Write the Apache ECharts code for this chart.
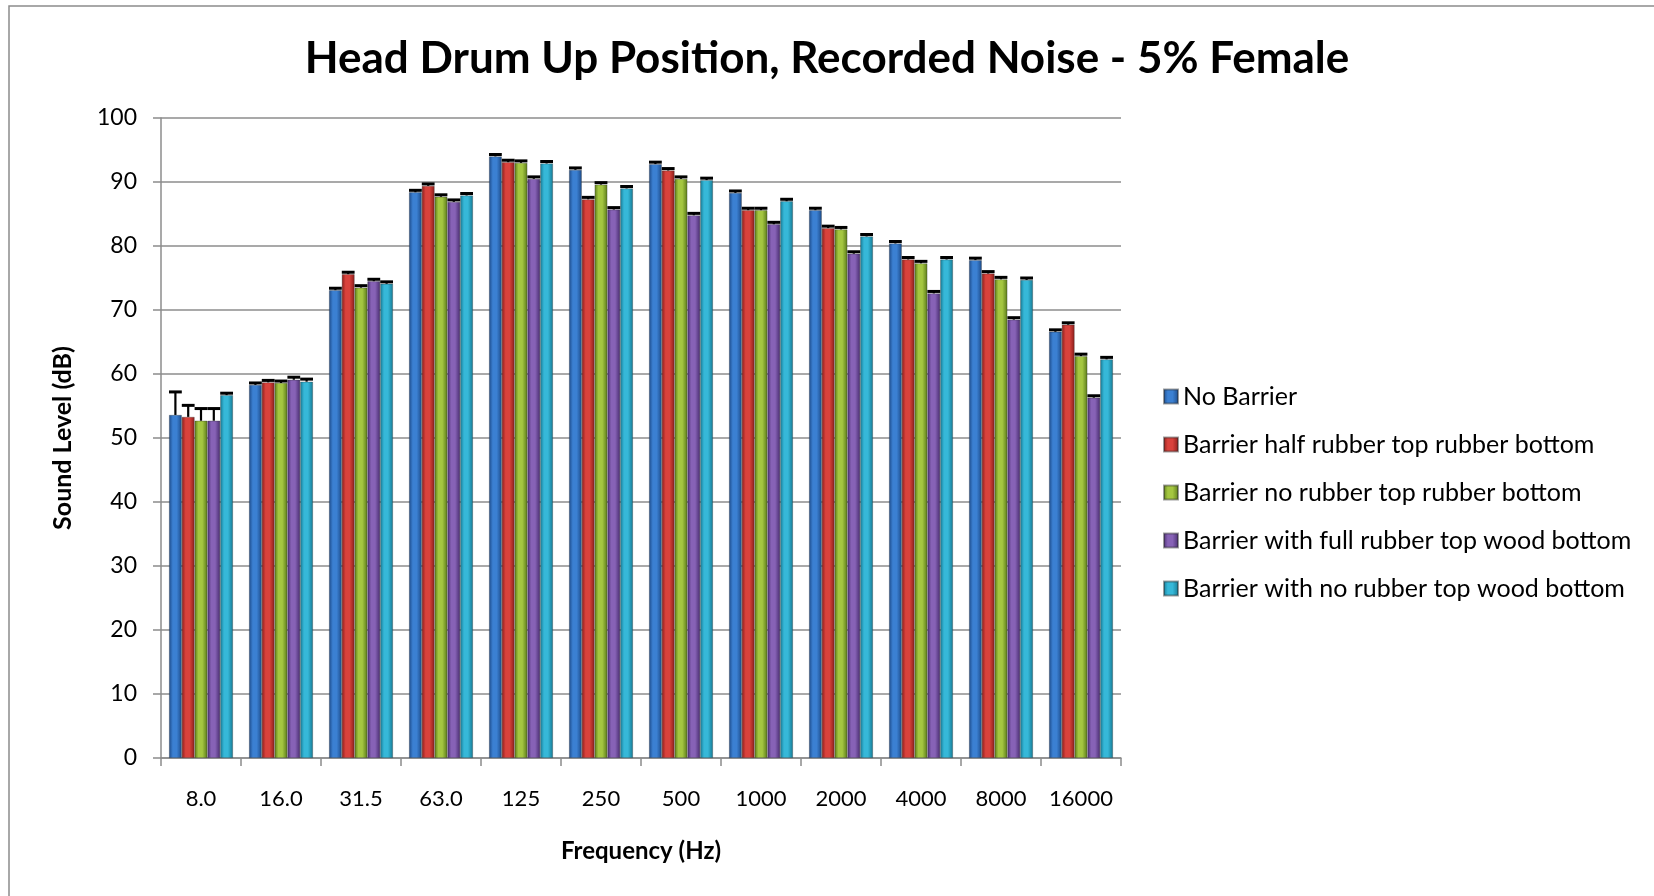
<!DOCTYPE html>
<html>
<head>
<meta charset="utf-8">
<script src="https://cdn.jsdelivr.net/npm/echarts@6/dist/echarts.min.js"></script>
<style>
  html, body { margin: 0; padding: 0; background: #fff; }
  #main { width: 1654px; height: 896px; }
</style>
</head>
<body>
<div id="main"></div>
<script>
// frequency bands
var categories = ['8.0', '16.0', '31.5', '63.0', '125', '250', '500', '1000', '2000', '4000', '8000', '16000'];

var seriesNames = [
  'No Barrier',
  'Barrier half rubber top rubber bottom',
  'Barrier no rubber top rubber bottom',
  'Barrier with full rubber top wood bottom',
  'Barrier with no rubber top wood bottom'
];

// sound level (dB) per band
var noBarrier = [53.6, 58.3, 73.1, 88.4, 94.0, 91.9, 92.8, 88.3, 85.6, 80.4, 77.8, 66.6];
var halfRubberTop = [53.3, 58.7, 75.6, 89.4, 93.1, 87.3, 91.8, 85.6, 82.8, 77.9, 75.7, 67.7];
var noRubberTop = [52.7, 58.6, 73.5, 87.7, 93.0, 89.6, 90.5, 85.6, 82.6, 77.3, 74.8, 62.8];
var fullRubberWood = [52.7, 59.1, 74.5, 86.9, 90.5, 85.7, 84.8, 83.4, 78.8, 72.6, 68.5, 56.3];
var noRubberWood = [56.7, 58.8, 74.1, 87.9, 92.9, 89.0, 90.3, 87.0, 81.5, 77.9, 74.7, 62.3];

// positive error per band
var errNoBarrier = [3.6, 0.3, 0.3, 0.3, 0.3, 0.3, 0.3, 0.3, 0.3, 0.3, 0.3, 0.3];
var errHalfRubberTop = [1.8, 0.3, 0.3, 0.3, 0.3, 0.3, 0.3, 0.3, 0.3, 0.3, 0.3, 0.3];
var errNoRubberTop = [1.9, 0.3, 0.3, 0.3, 0.3, 0.3, 0.3, 0.3, 0.3, 0.3, 0.3, 0.3];
var errFullRubberWood = [1.9, 0.4, 0.3, 0.3, 0.3, 0.3, 0.3, 0.3, 0.3, 0.3, 0.3, 0.3];
var errNoRubberWood = [0.3, 0.4, 0.3, 0.3, 0.3, 0.3, 0.3, 0.3, 0.3, 0.3, 0.3, 0.3];

var yTicks = [0, 10, 20, 30, 40, 50, 60, 70, 80, 90, 100];

var values = [noBarrier, halfRubberTop, noRubberTop, fullRubberWood, noRubberWood];
var errors = [errNoBarrier, errHalfRubberTop, errNoRubberTop, errFullRubberWood, errNoRubberWood];

// edge / mid colours to fake the rounded excel bars
var barColors = [
  ['#1c4a88', '#3b80d2'],
  ['#8a1d1a', '#d9423c'],
  ['#5a7a1a', '#a4c640'],
  ['#472c6e', '#8762b6'],
  ['#157892', '#36b8d8']
];

var FONT = 'Lato';
var CAT_GAP = 0.2;

function cylinder(c) {
  return {
    type: 'linear', x: 0, y: 0, x2: 1, y2: 0,
    colorStops: [
      { offset: 0, color: c[0] },
      { offset: 0.3, color: c[1] },
      { offset: 0.6, color: c[1] },
      { offset: 1, color: c[0] }
    ]
  };
}

var series = seriesNames.map(function (name, i) {
  return {
    name: name,
    type: 'bar',
    barGap: 0,
    barCategoryGap: '20%',
    itemStyle: {
      color: cylinder(barColors[i]),
      borderColor: 'rgba(40,40,40,0.45)',
      borderWidth: 0.7
    },
    data: values[i]
  };
});

var errData = [];
values.forEach(function (vals, s) {
  vals.forEach(function (v, c) {
    errData.push([c, v, s, errors[s][c]]);
  });
});

series.push({
  type: 'custom',
  name: 'err',
  z: 5,
  encode: { x: 0, y: 1 },
  data: errData,
  renderItem: function (params, api) {
    var cat = api.value(0);
    var v = api.value(1);
    var s = api.value(2);
    var e = api.value(3);
    var band = api.size([1, 0])[0];
    var total = band * (1 - CAT_GAP);
    var w = total / seriesNames.length;
    var base = api.coord([cat, v]);
    var top = api.coord([cat, v + e]);
    var x = base[0] - total / 2 + w * (s + 0.5);
    var half = w * 0.5;
    return {
      type: 'group',
      children: [
        {
          type: 'line',
          shape: { x1: x, y1: base[1], x2: x, y2: top[1] },
          style: { stroke: '#000', lineWidth: 2.2 }
        },
        {
          type: 'line',
          shape: { x1: x - half, y1: top[1], x2: x + half, y2: top[1] },
          style: { stroke: '#000', lineWidth: 3 }
        }
      ]
    };
  }
});

var myChart = echarts.init(document.getElementById('main'));
var option = {
  backgroundColor: '#fff',
  animation: false,
  title: {
    text: 'Head Drum Up Position, Recorded Noise - 5% Female',
    left: 'center',
    top: 32,
    textStyle: {
      fontFamily: FONT,
      fontWeight: 'bold',
      fontSize: 44,
      color: '#000'
    }
  },
  graphic: [
    {
      type: 'rect',
      shape: { x: 9, y: 6, width: 1660, height: 900 },
      style: { fill: 'none', stroke: '#8c8c8c', lineWidth: 1.5 },
      silent: true
    }
  ],
  legend: {
    data: seriesNames,
    orient: 'vertical',
    left: 1163,
    top: 384,
    padding: 0,
    itemWidth: 14,
    itemHeight: 14,
    itemGap: 23,
    itemTextGap: 6,
    icon: 'rect',
    textStyle: {
      fontFamily: FONT,
      fontSize: 25,
      color: '#000'
    }
  },
  grid: {
    left: 161,
    right: 533,
    top: 118,
    bottom: 138
  },
  xAxis: {
    type: 'category',
    data: categories,
    name: 'Frequency (Hz)',
    nameLocation: 'middle',
    nameGap: 81,
    nameTextStyle: {
      fontFamily: FONT,
      fontWeight: 'bold',
      fontSize: 24,
      color: '#000'
    },
    axisLine: { lineStyle: { color: '#8c8c8c', width: 1.5 } },
    axisTick: { show: true, length: 8, lineStyle: { color: '#8c8c8c', width: 1.5 } },
    axisLabel: {
      interval: 0,
      margin: 30,
      fontFamily: FONT,
      fontSize: 22,
      color: '#000'
    },
    splitLine: { show: false }
  },
  yAxis: {
    type: 'value',
    min: yTicks[0],
    max: yTicks[yTicks.length - 1],
    interval: 10,
    name: 'Sound Level (dB)',
    nameLocation: 'middle',
    nameGap: 86,
    nameTextStyle: {
      fontFamily: FONT,
      fontWeight: 'bold',
      fontSize: 25,
      color: '#000'
    },
    axisLine: { show: true, lineStyle: { color: '#8c8c8c', width: 1.5 } },
    axisTick: { show: true, length: 8, lineStyle: { color: '#8c8c8c', width: 1.5 } },
    axisLabel: {
      margin: 24,
      fontFamily: FONT,
      fontSize: 23,
      color: '#000'
    },
    splitLine: { lineStyle: { color: '#8c8c8c', width: 1.5 } }
  },
  series: series
};
myChart.setOption(option);
</script>
</body>
</html>
